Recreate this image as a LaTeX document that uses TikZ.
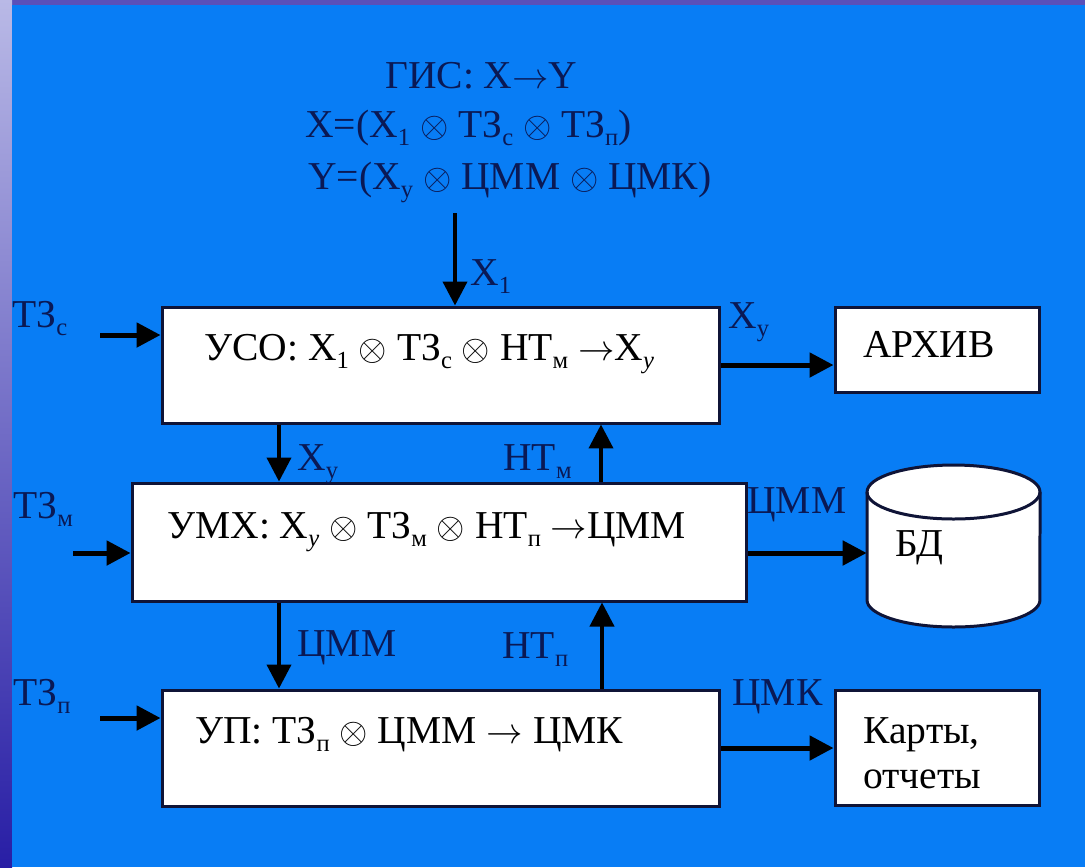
\documentclass[tikz,border=0pt]{standalone}
\usepackage{fontspec}
\setmainfont{Liberation Serif}
\usetikzlibrary{arrows.meta}
\definecolor{bg}{RGB}{8,125,245}
\definecolor{navy}{RGB}{10,25,85}
\definecolor{edge}{RGB}{15,20,55}
\definecolor{purp}{RGB}{90,80,185}
\definecolor{lav}{RGB}{185,185,230}
\definecolor{purmid}{RGB}{110,100,200}
\definecolor{purdark}{RGB}{40,30,165}
\newcommand\sbx[1]{\raisebox{-0.45ex}{\fontsize{14}{14}\selectfont #1}}
\newcommand\ox{\ensuremath{\otimes}}
\newcommand\ra{\ensuremath{\rightarrow}}
\begin{document}
\begin{tikzpicture}[x=0.02cm,y=-0.02cm,
  box/.style={draw=edge,line width=0.06cm,fill=white,inner sep=0pt},
  txt/.style={font=\fontsize{22.5}{26}\selectfont,inner sep=0pt,anchor=base west,text=black},
  lbl/.style={txt,text=navy},
  harr/.style={line width=0.1cm,draw=black,-{Triangle[length=0.48cm,width=0.48cm]}},
  varr/.style={line width=0.08cm,draw=black,-{Triangle[length=0.48cm,width=0.48cm]}}]
\useasboundingbox (0,0) rectangle (1085,867);
% background
\fill[purp] (0,0) rectangle (1085,867);
\shade[top color=lav, middle color=purmid, bottom color=purdark] (0,0) rectangle (12,867);
\fill[bg] (12,5) rectangle (1085,867);

% boxes
\node[box,minimum width=11.16cm,minimum height=2.32cm] (uso) at (441,365) {};
\node[box,minimum width=12.3cm,minimum height=2.36cm] (umx) at (439.5,542) {};
\node[box,minimum width=11.16cm,minimum height=2.32cm] (up) at (441,748) {};
\node[box,minimum width=4.1cm,minimum height=1.7cm] (arch) at (937.5,349.5) {};
\node[box,minimum width=4.1cm,minimum height=2.3cm] (maps) at (937.5,747.5) {};

% database cylinder
\node[inner sep=0pt,minimum width=3.46cm,minimum height=3.24cm] (bd) at (953.5,546) {};
\path[fill=white,draw=edge,line width=0.06cm]
  (867,492) -- (867,600) arc[start angle=180,end angle=360,x radius=1.73cm,y radius=0.54cm]
  -- (1040,492) arc[start angle=0,end angle=180,x radius=1.73cm,y radius=0.54cm] -- cycle;
\draw[edge,line width=0.06cm] (867,492) arc[start angle=180,end angle=360,x radius=1.73cm,y radius=0.54cm];

% texts in boxes
\node[txt] (tuso) at (204,360) {УСО: X\sbx{1} \ox{} ТЗ\sbx{с} \ox{} НТ\sbx{м} \ra X\sbx{\itshape у}};
\node[txt] (tumx) at (167,538) {УМХ: X\sbx{\itshape у} \ox{} ТЗ\sbx{м} \ox{} НТ\sbx{п} \ra ЦММ};
\node[txt] (tup) at (195,743) {УП: ТЗ\sbx{п} \ox{} ЦММ \ra{} ЦМК};
\node[txt] (tarch) at (863,357) {АРХИВ};
\node[txt] (tmaps1) at (863,743) {Карты,};
\node[txt] (tmaps2) at (863,788) {отчеты};
\node[txt] (tbd) at (895,556) {БД};

% top text
\node[lbl] (gis) at (385,88) {ГИС: X\ra Y};
\node[lbl] (xdef) at (305,137) {X=(X\sbx{1} \ox{} ТЗ\sbx{с} \ox{} ТЗ\sbx{п})};
\node[lbl] (ydef) at (308,189) {Y=(X\sbx{у} \ox{} ЦММ \ox{} ЦМК)};

% free ends
\coordinate (x1s) at (455,213);
\coordinate (tzsS) at (100,335);
\coordinate (tzmS) at (73,553);
\coordinate (tzpS) at (100,718);

% arrows
\draw[varr] (x1s) -- (x1s |- uso.north);
\draw[harr] (tzsS) -- (tzsS -| uso.west);
\draw[harr] (tzmS) -- (tzmS -| umx.west);
\draw[harr] (tzpS) -- (tzpS -| up.west);
\draw[harr] (uso.east) -- (uso.east -| arch.west);
\draw[harr] ([yshift=-0.22cm]umx.east) -- ([yshift=-0.22cm]umx.east -| bd.west);
\draw[harr] (up.east) -- (up.east -| maps.west);
\draw[varr] (279,0 |- uso.south) -- (279,0 |- umx.north);
\draw[varr] (601,0 |- umx.north) -- (601,0 |- uso.south);
\draw[varr] (279,0 |- umx.south) -- (279,0 |- up.north);
\draw[varr] (602,0 |- up.north) -- (602,0 |- umx.south);

% labels
\node[lbl] (lx1) at (470,285) {X\sbx{1}};
\node[lbl] (lxy1) at (728,328) {X\sbx{у}};
\node[lbl] (lxy2) at (297,470) {X\sbx{у}};
\node[lbl] (lntm) at (503,470) {НТ\sbx{м}};
\node[lbl] (lcmm1) at (747,513) {ЦММ};
\node[lbl] (lcmm2) at (297,656) {ЦММ};
\node[lbl] (lntp) at (502,658) {НТ\sbx{п}};
\node[lbl] (lcmk) at (732,705) {ЦМК};
\node[lbl] (ltzs) at (12,327) {ТЗ\sbx{с}};
\node[lbl] (ltzm) at (13,518) {ТЗ\sbx{м}};
\node[lbl] (ltzp) at (13,705) {ТЗ\sbx{п}};
\end{tikzpicture}
\end{document}
